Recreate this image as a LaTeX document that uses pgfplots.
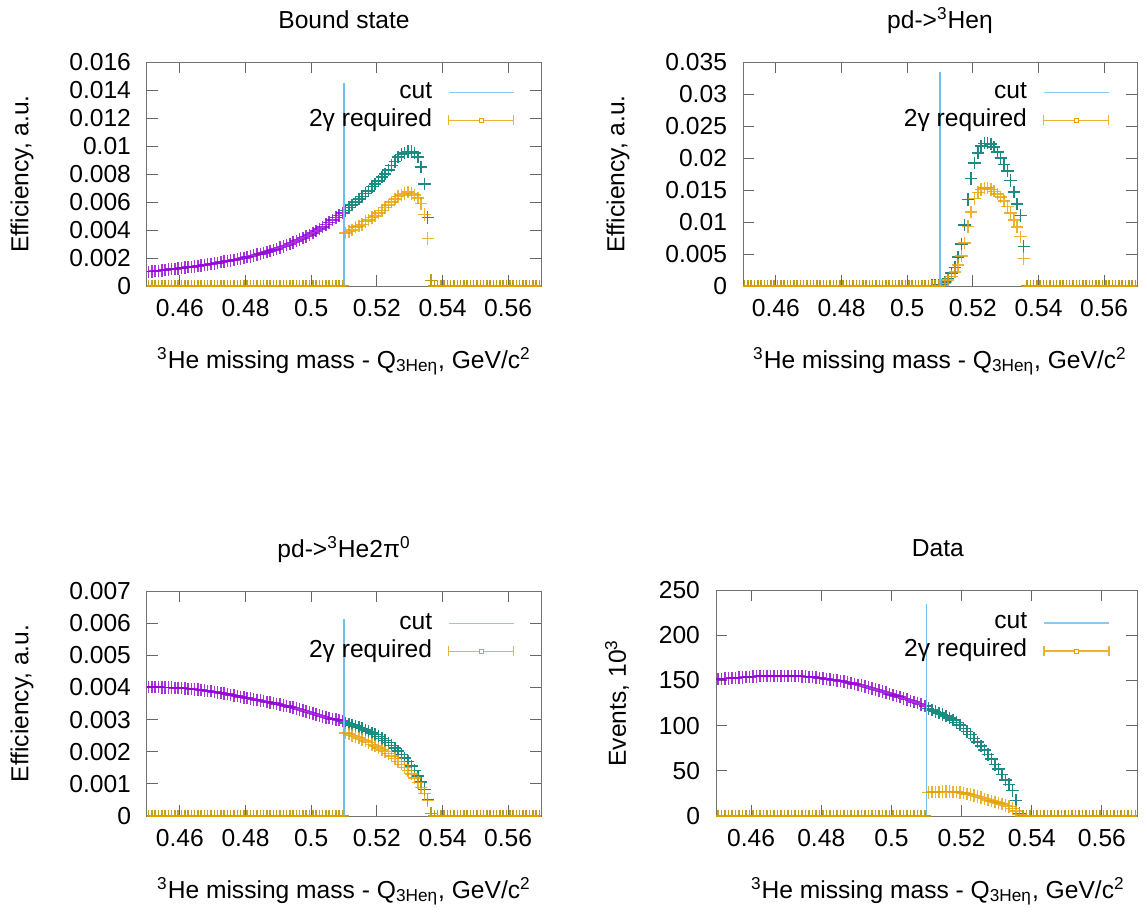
\documentclass[border=0pt]{standalone}
\usepackage{pgfplots}
\pgfplotsset{compat=1.18}
\usepackage{pgfplotstable}
\usepackage{fontspec}
\setmainfont{Liberation Sans}
\definecolor{gpPurple}{HTML}{9400D3}
\definecolor{gpGreen}{HTML}{009E73}
\definecolor{gpBlue}{HTML}{56B4E9}
\definecolor{gpOrange}{HTML}{E69F00}

% Bound state
\pgfplotstableread{
x p g o
.4505 .00102 0 0
.4515 .00104 0 0
.4525 .00107 0 0
.4535 .00109 0 0
.4545 .00112 0 0
.4555 .00114 0 0
.4565 .00117 0 0
.4575 .00120 0 0
.4585 .00122 0 0
.4595 .00125 0 0
.4605 .00128 0 0
.4615 .00131 0 0
.4625 .00134 0 0
.4635 .00137 0 0
.4645 .00140 0 0
.4655 .00144 0 0
.4665 .00147 0 0
.4675 .00151 0 0
.4685 .00154 0 0
.4695 .00158 0 0
.4705 .00162 0 0
.4715 .00166 0 0
.4725 .00170 0 0
.4735 .00174 0 0
.4745 .00178 0 0
.4755 .00182 0 0
.4765 .00187 0 0
.4775 .00191 0 0
.4785 .00196 0 0
.4795 .00201 0 0
.4805 .00206 0 0
.4815 .00212 0 0
.4825 .00218 0 0
.4835 .00224 0 0
.4845 .00230 0 0
.4855 .00237 0 0
.4865 .00244 0 0
.4875 .00251 0 0
.4885 .00258 0 0
.4895 .00266 0 0
.4905 .00274 0 0
.4915 .00282 0 0
.4925 .00291 0 0
.4935 .00300 0 0
.4945 .00310 0 0
.4955 .00320 0 0
.4965 .00331 0 0
.4975 .00342 0 0
.4985 .00354 0 0
.4995 .00366 0 0
.5005 .00379 0 0
.5015 .00393 0 0
.5025 .00407 0 0
.5035 .00422 0 0
.5045 .00438 0 0
.5055 .00454 0 0
.5065 .00471 0 0
.5075 .00488 0 0
.5085 .00505 0 0
.5095 .00521 0 0
.5105 .0054 .0054 .0038
.5115 .0056 .0056 .0039
.5125 .0058 .0058 .0040
.5135 .0060 .0060 .0042
.5145 .0062 .0062 .0043
.5155 .0064 .0064 .0044
.5165 .0066 .0066 .0046
.5175 .0068 .0068 .0047
.5185 .0071 .0071 .0049
.5195 .0073 .0073 .0050
.5205 .0075 .0075 .0052
.5215 .0078 .0078 .0054
.5225 .0080 .0080 .0056
.5235 .0083 .0083 .0058
.5245 .0086 .0086 .0060
.5255 .0089 .0089 .0062
.5265 .0092 .0092 .0064
.5275 .0094 .0094 .0065
.5285 .0095 .0095 .0066
.5295 .0096 .0096 .0067
.5305 .0096 .0096 .0066
.5315 .0095 .0095 .0065
.5325 .0092 .0092 .0063
.5335 .0085 .0085 .0059
.5345 .0073 .0073 .0051
.5355 .0049 .0049 .0034
.5365 .0004 .0004 .0004
.5375 0 0 0
.5385 0 0 0
.5395 0 0 0
.5405 0 0 0
.5415 0 0 0
.5425 0 0 0
.5435 0 0 0
.5445 0 0 0
.5455 0 0 0
.5465 0 0 0
.5475 0 0 0
.5485 0 0 0
.5495 0 0 0
.5505 0 0 0
.5515 0 0 0
.5525 0 0 0
.5535 0 0 0
.5545 0 0 0
.5555 0 0 0
.5565 0 0 0
.5575 0 0 0
.5585 0 0 0
.5595 0 0 0
.5605 0 0 0
.5615 0 0 0
.5625 0 0 0
.5635 0 0 0
.5645 0 0 0
.5655 0 0 0
.5665 0 0 0
.5675 0 0 0
.5685 0 0 0
.5695 0 0 0
}\tbBS

% pd -> 3He eta
\pgfplotstableread{
x p g o
.4505 0 0 0
.4515 0 0 0
.4525 0 0 0
.4535 0 0 0
.4545 0 0 0
.4555 0 0 0
.4565 0 0 0
.4575 0 0 0
.4585 0 0 0
.4595 0 0 0
.4605 0 0 0
.4615 0 0 0
.4625 0 0 0
.4635 0 0 0
.4645 0 0 0
.4655 0 0 0
.4665 0 0 0
.4675 0 0 0
.4685 0 0 0
.4695 0 0 0
.4705 0 0 0
.4715 0 0 0
.4725 0 0 0
.4735 0 0 0
.4745 0 0 0
.4755 0 0 0
.4765 0 0 0
.4775 0 0 0
.4785 0 0 0
.4795 0 0 0
.4805 0 0 0
.4815 0 0 0
.4825 0 0 0
.4835 0 0 0
.4845 0 0 0
.4855 0 0 0
.4865 0 0 0
.4875 0 0 0
.4885 0 0 0
.4895 0 0 0
.4905 0 0 0
.4915 0 0 0
.4925 0 0 0
.4935 0 0 0
.4945 0 0 0
.4955 0 0 0
.4965 0 0 0
.4975 0 0 0
.4985 0 0 0
.4995 0 0 0
.5005 0 0 0
.5015 0 0 0
.5025 0 0 0
.5035 0 0 0
.5045 0 0 0
.5055 0 0 0
.5065 0 0 0
.5075 .00005 0 0
.5085 .0001 0 0
.5095 .00015 0 0
.5105 .0002 .0002 .0001
.5115 .0006 .0006 .0004
.5125 .0012 .0012 .0009
.5135 .0020 .0020 .0015
.5145 .0029 .0029 .0022
.5155 .0045 .0045 .0033
.5165 .0066 .0066 .0047
.5175 .0095 .0095 .0067
.5185 .0135 .0135 .0093
.5195 .0168 .0168 .0116
.5205 .0192 .0192 .0137
.5215 .0208 .0208 .0146
.5225 .0219 .0219 .0151
.5235 .0223 .0223 .0153
.5245 .0223 .0223 .0153
.5255 .0222 .0222 .0151
.5265 .0217 .0217 .0148
.5275 .0209 .0209 .0144
.5285 .0200 .0200 .0139
.5295 .0190 .0190 .0133
.5305 .0180 .0180 .0124
.5315 .0165 .0165 .0114
.5325 .0147 .0147 .0103
.5335 .0128 .0128 .0092
.5345 .0110 .0110 .0077
.5355 .0062 .0062 .0043
.5365 0 0 0
.5375 0 0 0
.5385 0 0 0
.5395 0 0 0
.5405 0 0 0
.5415 0 0 0
.5425 0 0 0
.5435 0 0 0
.5445 0 0 0
.5455 0 0 0
.5465 0 0 0
.5475 0 0 0
.5485 0 0 0
.5495 0 0 0
.5505 0 0 0
.5515 0 0 0
.5525 0 0 0
.5535 0 0 0
.5545 0 0 0
.5555 0 0 0
.5565 0 0 0
.5575 0 0 0
.5585 0 0 0
.5595 0 0 0
.5605 0 0 0
.5615 0 0 0
.5625 0 0 0
.5635 0 0 0
.5645 0 0 0
.5655 0 0 0
.5665 0 0 0
.5675 0 0 0
.5685 0 0 0
.5695 0 0 0
}\tbEta

% pd -> 3He 2pi0
\pgfplotstableread{
x p g o
.4505 .00401 0 0
.4515 .00401 0 0
.4525 .00401 0 0
.4535 .00401 0 0
.4545 .00400 0 0
.4555 .00400 0 0
.4565 .00400 0 0
.4575 .00400 0 0
.4585 .00399 0 0
.4595 .00399 0 0
.4605 .00398 0 0
.4615 .00397 0 0
.4625 .00396 0 0
.4635 .00395 0 0
.4645 .00394 0 0
.4655 .00393 0 0
.4665 .00392 0 0
.4675 .00391 0 0
.4685 .00389 0 0
.4695 .00388 0 0
.4705 .00386 0 0
.4715 .00384 0 0
.4725 .00383 0 0
.4735 .00381 0 0
.4745 .00379 0 0
.4755 .00377 0 0
.4765 .00375 0 0
.4775 .00373 0 0
.4785 .00371 0 0
.4795 .00369 0 0
.4805 .00367 0 0
.4815 .00365 0 0
.4825 .00363 0 0
.4835 .00361 0 0
.4845 .00359 0 0
.4855 .00357 0 0
.4865 .00355 0 0
.4875 .00353 0 0
.4885 .00351 0 0
.4895 .00349 0 0
.4905 .00347 0 0
.4915 .00344 0 0
.4925 .00342 0 0
.4935 .00339 0 0
.4945 .00337 0 0
.4955 .00334 0 0
.4965 .00331 0 0
.4975 .00328 0 0
.4985 .00325 0 0
.4995 .00322 0 0
.5005 .00319 0 0
.5015 .00316 0 0
.5025 .00313 0 0
.5035 .00310 0 0
.5045 .00307 0 0
.5055 .00304 0 0
.5065 .00302 0 0
.5075 .00300 0 0
.5085 .00298 0 0
.5095 .00296 0 0
.5105 .00290 .00290 .00258
.5115 .00287 .00287 .00255
.5125 .00283 .00283 .00251
.5135 .00280 .00280 .00247
.5145 .00276 .00276 .00243
.5155 .00272 .00272 .00238
.5165 .00268 .00268 .00233
.5175 .00263 .00263 .00228
.5185 .00258 .00258 .00223
.5195 .00253 .00253 .00218
.5205 .00247 .00247 .00212
.5215 .00241 .00241 .00206
.5225 .00235 .00235 .00200
.5235 .00228 .00228 .00194
.5245 .00220 .00220 .00187
.5255 .00211 .00211 .00179
.5265 .00202 .00202 .00170
.5275 .00192 .00192 .00161
.5285 .00181 .00181 .00151
.5295 .00169 .00169 .00141
.5305 .00156 .00156 .00130
.5315 .00142 .00142 .00118
.5325 .00125 .00125 .00104
.5335 .00106 .00106 .00088
.5345 .00082 .00082 .00070
.5355 .00052 .00052 .00048
.5365 .00008 .00008 .00008
.5375 0 0 0
.5385 0 0 0
.5395 0 0 0
.5405 0 0 0
.5415 0 0 0
.5425 0 0 0
.5435 0 0 0
.5445 0 0 0
.5455 0 0 0
.5465 0 0 0
.5475 0 0 0
.5485 0 0 0
.5495 0 0 0
.5505 0 0 0
.5515 0 0 0
.5525 0 0 0
.5535 0 0 0
.5545 0 0 0
.5555 0 0 0
.5565 0 0 0
.5575 0 0 0
.5585 0 0 0
.5595 0 0 0
.5605 0 0 0
.5615 0 0 0
.5625 0 0 0
.5635 0 0 0
.5645 0 0 0
.5655 0 0 0
.5665 0 0 0
.5675 0 0 0
.5685 0 0 0
.5695 0 0 0
}\tbPi

% Data
\pgfplotstableread{
x p g o
.4505 151.3 0 0
.4515 151.6 0 0
.4525 151.9 0 0
.4535 152.2 0 0
.4545 152.5 0 0
.4555 152.8 0 0
.4565 153.1 0 0
.4575 153.4 0 0
.4585 153.7 0 0
.4595 154.0 0 0
.4605 154.2 0 0
.4615 154.4 0 0
.4625 154.6 0 0
.4635 154.8 0 0
.4645 154.9 0 0
.4655 155.0 0 0
.4665 155.1 0 0
.4675 155.1 0 0
.4685 155.1 0 0
.4695 155.1 0 0
.4705 155.0 0 0
.4715 154.9 0 0
.4725 154.8 0 0
.4735 154.6 0 0
.4745 154.4 0 0
.4755 154.2 0 0
.4765 153.9 0 0
.4775 153.6 0 0
.4785 153.2 0 0
.4795 152.8 0 0
.4805 152.3 0 0
.4815 151.8 0 0
.4825 151.2 0 0
.4835 150.6 0 0
.4845 150.0 0 0
.4855 149.3 0 0
.4865 148.6 0 0
.4875 147.8 0 0
.4885 147.0 0 0
.4895 146.1 0 0
.4905 145.2 0 0
.4915 144.2 0 0
.4925 143.2 0 0
.4935 142.1 0 0
.4945 141.0 0 0
.4955 139.9 0 0
.4965 138.8 0 0
.4975 137.6 0 0
.4985 136.4 0 0
.4995 135.2 0 0
.5005 134.0 0 0
.5015 132.7 0 0
.5025 131.4 0 0
.5035 130.1 0 0
.5045 128.8 0 0
.5055 127.5 0 0
.5065 126.1 0 0
.5075 124.7 0 0
.5085 123.3 0 0
.5095 121.9 0 0
.5105 119 119 26
.5115 117 117 26.3
.5125 115.5 115.5 26.6
.5135 114 114 26.8
.5145 112.5 112.5 27
.5155 110.5 110.5 27
.5165 108.5 108.5 27
.5175 106 106 26.7
.5185 103.5 103.5 26.3
.5195 100.5 100.5 25.8
.5205 97 97 25.2
.5215 93.5 93.5 24.5
.5225 90 90 23.6
.5235 86 86 22.6
.5245 82 82 21.5
.5255 77.5 77.5 20.3
.5265 73 73 19.1
.5275 68 68 17.9
.5285 63 63 16.7
.5295 57 57 15.5
.5305 52 52 14.3
.5315 46 46 13.1
.5325 40 40 11.8
.5335 35 35 10.3
.5345 28 28 8.5
.5355 17 17 5.5
.5365 3 3 1.5
.5375 0 0 0
.5385 0 0 0
.5395 0 0 0
.5405 0 0 0
.5415 0 0 0
.5425 0 0 0
.5435 0 0 0
.5445 0 0 0
.5455 0 0 0
.5465 0 0 0
.5475 0 0 0
.5485 0 0 0
.5495 0 0 0
.5505 0 0 0
.5515 0 0 0
.5525 0 0 0
.5535 0 0 0
.5545 0 0 0
.5555 0 0 0
.5565 0 0 0
.5575 0 0 0
.5585 0 0 0
.5595 0 0 0
.5605 0 0 0
.5615 0 0 0
.5625 0 0 0
.5635 0 0 0
.5645 0 0 0
.5655 0 0 0
.5665 0 0 0
.5675 0 0 0
.5685 0 0 0
.5695 0 0 0
}\tbData

\pgfplotsset{
  gpbase/.style={
    scale only axis, anchor=south west,
    xmin=0.45, xmax=0.57, ymin=0,
    xtick={0.46,0.48,0.5,0.52,0.54,0.56},
    xticklabels={0.46,0.48,0.5,0.52,0.54,0.56},
    scaled y ticks=false, scaled x ticks=false,
    tick align=inside, major tick length=5.5pt,
    axis line style={black!55, line width=0.5pt},
    every tick/.style={black!60, line width=0.5pt},
    minor tick num=0,
    clip marker paths=true,
    /pgf/number format/assume math mode=true,
    yticklabel style={xshift=-4.5pt},
    xticklabel style={yshift=-3pt},
    every axis title/.style={at={(0.5,1)}, anchor=base, yshift=17pt},
    every axis x label/.style={at={(axis description cs:0.5,0)}, anchor=base, yshift=-41pt},
    every axis y label/.style={at={(axis description cs:-0.3173,0.5)}, rotate=90, anchor=center},
    xlabel={\textsuperscript{3}He missing mass - Q\textsubscript{3Heη}, GeV/c\textsuperscript{2}},
    legend plot pos=right, legend cell align=right,
    legend style={anchor=north east,
      draw=none, fill=none, column sep=7pt, row sep=0pt, inner sep=0pt,
      nodes={inner sep=1pt, text height=9pt, text depth=3pt}},
  },
  pser/.style={only marks, mark=+, mark size=3.1pt, mark options={line width=0.75pt}, opacity=0.8},
  cutline/.style={gpBlue!85!white, line width=0.75pt,
    legend image code/.code={\draw[gpBlue!70!white, line width=0.75pt] (0pt,0pt)--(32.5pt,0pt);}},
  oleg/.style={legend image code/.code={
    \draw[gpOrange, line width=0.6pt, opacity=0.8] (0pt,0pt)--(32.5pt,0pt) (0pt,-2.5pt)--(0pt,2.5pt) (32.5pt,-2.5pt)--(32.5pt,2.5pt);
    \draw[gpOrange, fill=white, line width=0.4pt, opacity=1] (15.25pt,-1pt) rectangle (17.25pt,1pt);}},
}

\begin{document}
\begin{tikzpicture}[font=\fontsize{12.3}{14.5}\selectfont]
\useasboundingbox (0,0) rectangle (573.5pt,456pt);

% Top left
\begin{axis}[gpbase, at={(73.5pt,313pt)}, width=197pt, height=112pt,
  ymax=0.016, ytick={0,0.002,0.004,0.006,0.008,0.01,0.012,0.014,0.016},
  yticklabels={0,0.002,0.004,0.006,0.008,0.01,0.012,0.014,0.016},
  legend style={at={(axis description cs:0.934,0.929)}},
  title={Bound state}, ylabel={Efficiency, a.u.}]
\addplot[pser, gpPurple, forget plot] table[x=x,y=p]{\tbBS};
\addplot[pser, gpGreen, forget plot] table[x=x,y=g]{\tbBS};
\addplot[cutline] coordinates {(0.51,0) (0.51,0.0145)};
\addlegendentry{cut}
\addplot[pser, gpOrange, oleg] table[x=x,y=o]{\tbBS};
\addlegendentry{2γ required}
\end{axis}

% Top right
\begin{axis}[gpbase, at={(371.5pt,313pt)}, width=197pt, height=112pt,
  ymax=0.035, ytick={0,0.005,0.01,0.015,0.02,0.025,0.03,0.035},
  yticklabels={0,0.005,0.01,0.015,0.02,0.025,0.03,0.035},
  legend style={at={(axis description cs:0.931,0.929)}},
  title={pd->\textsuperscript{3}Heη}, ylabel={Efficiency, a.u.}]
\addplot[pser, gpPurple, forget plot] table[x=x,y=p]{\tbEta};
\addplot[pser, gpGreen, forget plot] table[x=x,y=g]{\tbEta};
\addplot[cutline] coordinates {(0.51,0) (0.51,0.0334)};
\addlegendentry{cut}
\addplot[pser, gpOrange, oleg] table[x=x,y=o]{\tbEta};
\addlegendentry{2γ required}
\end{axis}

% Bottom left
\begin{axis}[gpbase, at={(73.5pt,48pt)}, width=197pt, height=112.5pt,
  ymax=0.007, ytick={0,0.001,0.002,0.003,0.004,0.005,0.006,0.007},
  yticklabels={0,0.001,0.002,0.003,0.004,0.005,0.006,0.007},
  legend style={at={(axis description cs:0.934,0.92)}},
  title={pd->\textsuperscript{3}He2π\textsuperscript{0}}, ylabel={Efficiency, a.u.}]
\addplot[pser, gpPurple, forget plot] table[x=x,y=p]{\tbPi};
\addplot[pser, gpGreen, forget plot] table[x=x,y=g]{\tbPi};
\addplot[cutline] coordinates {(0.51,0) (0.51,0.00613)};
\addlegendentry{cut}
\addplot[pser, gpOrange, oleg] table[x=x,y=o]{\tbPi};
\addlegendentry{2γ required}
\end{axis}

% Bottom right
\begin{axis}[gpbase, at={(358pt,48pt)}, width=210.5pt, height=113pt,
  ymax=250, ytick={0,50,100,150,200,250},
  yticklabels={0,50,100,150,200,250},
  legend style={at={(axis description cs:0.936,0.918)}},
  every axis title/.style={at={(0.527,1)}, anchor=base, yshift=17pt},
  every axis x label/.style={at={(axis description cs:0.527,0)}, anchor=base, yshift=-41pt},
  every axis y label/.style={at={(axis description cs:-0.2352,0.5)}, rotate=90, anchor=center},
  title={Data}, ylabel={Events, 10\textsuperscript{3}}]
\addplot[pser, gpPurple, forget plot] table[x=x,y=p]{\tbData};
\addplot[pser, gpGreen, forget plot] table[x=x,y=g]{\tbData};
\addplot[cutline] coordinates {(0.51,0) (0.51,234.5)};
\addlegendentry{cut}
\addplot[pser, gpOrange, oleg] table[x=x,y=o]{\tbData};
\addlegendentry{2γ required}
\end{axis}
\end{tikzpicture}
\end{document}
